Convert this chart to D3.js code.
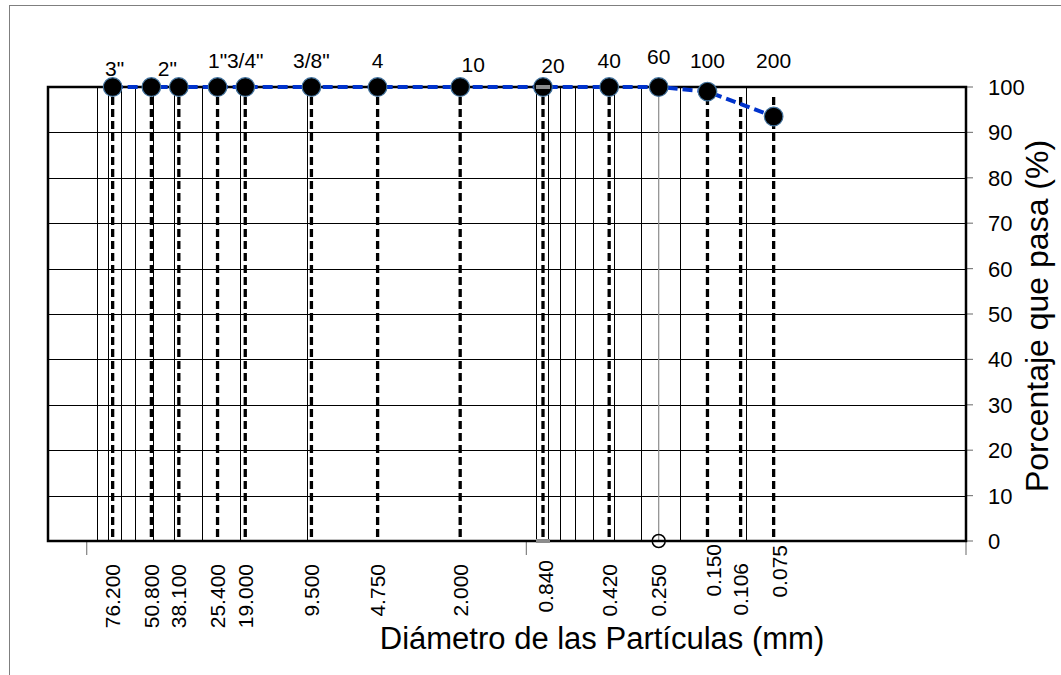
<!DOCTYPE html>
<html>
<head>
<meta charset="utf-8">
<script src="https://cdn.jsdelivr.net/npm/d3@7"></script>
<style>
  body { margin: 0; background: #fff; }
  svg text { font-family: "Liberation Sans", Arial, sans-serif; fill: #000; }
</style>
</head>
<body>
<div id="chart"></div>
<script>
// ── datos de la granulometria ──
const sieveSizes = [76.2, 50.8, 38.1, 25.4, 19.0, 9.5, 4.75, 2.0, 0.84, 0.42, 0.25, 0.15, 0.106, 0.075];
const sieveNames = ['3"', '2"', '', '1"', '3/4"', '3/8"', '4', '10', '20', '40', '60', '100', '', '200'];
const sizeLabels = ["76.200", "50.800", "38.100", "25.400", "19.000", "9.500", "4.750", "2.000", "0.840", "0.420", "0.250", "0.150", "0.106", "0.075"];
const percentPassing = [100, 100, 100, 100, 100, 100, 100, 100, 100, 100, 100, 99.0, null, 93.5];
const yTicks = [0, 10, 20, 30, 40, 50, 60, 70, 80, 90, 100];
const minorGrid = [90, 80, 70, 60, 50, 40, 30, 20, 10, 0.9, 0.8, 0.7, 0.6, 0.5, 0.4, 0.3, 0.2, 0.1];
const majorTicks = [100, 1, 0.01];
const openMarks = [0.25];

const width = 1061, height = 675;
const m = { left: 48, right: 966, top: 87, bottom: 541 };

const x = d3.scaleLog().domain([150, 0.01]).range([m.left, m.right]);
const y = d3.scaleLinear().domain([0, 100]).range([m.bottom, m.top]);

const svg = d3.select("#chart").append("svg")
  .attr("width", width).attr("height", height);

// marco exterior
svg.append("rect")
  .attr("x", 9.5).attr("y", 5.5).attr("width", 1100).attr("height", 700)
  .attr("fill", "none").attr("stroke", "#7f7f7f").attr("stroke-width", 1);

// cuadricula
svg.append("g").attr("stroke", "#000").attr("stroke-width", 1)
  .selectAll("line").data(yTicks).join("line")
  .attr("x1", m.left).attr("x2", m.right)
  .attr("y1", d => Math.round(y(d)) + 0.5).attr("y2", d => Math.round(y(d)) + 0.5);

svg.append("g").attr("stroke", "#000").attr("stroke-width", 1)
  .selectAll("line").data(minorGrid).join("line")
  .attr("x1", d => Math.round(x(d)) + 0.5).attr("x2", d => Math.round(x(d)) + 0.5)
  .attr("y1", m.top).attr("y2", m.bottom);

// linea gris de referencia y marcador abierto
svg.append("g").attr("stroke", "#8c8c8c").attr("stroke-width", 1.2)
  .selectAll("line").data(openMarks).join("line")
  .attr("x1", d => x(d)).attr("x2", d => x(d))
  .attr("y1", y(100)).attr("y2", y(0));

// ticks de ejes
svg.append("g").attr("stroke", "#808080").attr("stroke-width", 1.2)
  .selectAll("line").data(majorTicks).join("line")
  .attr("x1", d => x(d)).attr("x2", d => x(d))
  .attr("y1", m.bottom).attr("y2", m.bottom + 14);

svg.append("g").attr("stroke", "#808080").attr("stroke-width", 1.2)
  .selectAll("line").data(yTicks).join("line")
  .attr("x1", m.right).attr("x2", m.right + 7)
  .attr("y1", d => y(d)).attr("y2", d => y(d));

// borde del area de trazado
svg.append("rect")
  .attr("x", m.left).attr("y", m.top)
  .attr("width", m.right - m.left).attr("height", m.bottom - m.top)
  .attr("fill", "none").attr("stroke", "#000").attr("stroke-width", 2.5);

// lineas verticales discontinuas por tamiz (el 0.25 solo lleva linea gris)
svg.append("g").attr("stroke", "#000").attr("stroke-width", 3.3).attr("stroke-dasharray", "8,4")
  .selectAll("line").data(sieveSizes.filter(s => !openMarks.includes(s))).join("line")
  .attr("x1", d => x(d)).attr("x2", d => x(d))
  .attr("y1", y(100) + 10).attr("y2", y(0));

// banda gris en el tamiz 20
svg.append("rect")
  .attr("x", x(0.84) - 7).attr("y", y(0) - 2).attr("width", 14).attr("height", 4)
  .attr("fill", "#8c8c8c");

// curva granulometrica
const pts = sieveSizes.map((s, i) => ({ s, p: percentPassing[i] })).filter(d => d.p != null);

svg.append("path")
  .datum(pts)
  .attr("fill", "none").attr("stroke", "#0033cc").attr("stroke-width", 4)
  .attr("stroke-dasharray", "10,5")
  .attr("d", d3.line().x(d => x(d.s)).y(d => y(d.p)));

svg.append("g")
  .selectAll("circle").data(pts).join("circle")
  .attr("cx", d => x(d.s)).attr("cy", d => y(d.p)).attr("r", 9.3)
  .attr("fill", "#000").attr("stroke", "#41719c").attr("stroke-width", 1.2);

svg.append("rect")
  .attr("x", x(0.84) - 7).attr("y", y(100) - 2).attr("width", 14).attr("height", 4)
  .attr("fill", "#8c8c8c");

svg.append("g")
  .selectAll("circle").data(openMarks).join("circle")
  .attr("cx", d => x(d)).attr("cy", y(0)).attr("r", 6.5)
  .attr("fill", "none").attr("stroke", "#000").attr("stroke-width", 1.5);

// etiquetas de tamices (arriba)
const topNudge = { '3"': [2, 76], '2"': [16, 76], '10': [13, 72], '20': [10, 73], '60': [0, 64] };
svg.append("g")
  .selectAll("text").data(sieveNames.map((n, i) => ({ n, s: sieveSizes[i] })).filter(d => d.n)).join("text")
  .attr("x", d => x(d.s) + (topNudge[d.n] ? topNudge[d.n][0] : 0))
  .attr("y", d => topNudge[d.n] ? topNudge[d.n][1] : 68)
  .attr("text-anchor", "middle").attr("font-size", "21px")
  .text(d => d.n);

// etiquetas de diametros (abajo, giradas)
const lowNudge = { "0.150": [6, 544], "0.075": [6, 545], "0.840": [2, 560], "0.106": [0, 563] };
svg.append("g")
  .selectAll("text").data(sizeLabels.map((t, i) => ({ t, s: sieveSizes[i] }))).join("text")
  .attr("transform", d => {
    const n = lowNudge[d.t] || [0, 564];
    return `translate(${x(d.s) + n[0]},${n[1]}) rotate(-90)`;
  })
  .attr("dy", "0.36em").attr("text-anchor", "end").attr("font-size", "21px")
  .text(d => d.t);

// eje Y a la derecha
svg.append("g")
  .selectAll("text").data(yTicks).join("text")
  .attr("x", 988).attr("y", d => y(d)).attr("dy", "0.36em")
  .attr("font-size", "22px")
  .text(d => d);

svg.append("text")
  .attr("transform", `translate(1048,${(m.top + m.bottom) / 2 + 2}) rotate(-90)`)
  .attr("text-anchor", "middle").attr("font-size", "32px")
  .text("Porcentaje que pasa (%)");

svg.append("text")
  .attr("x", 602).attr("y", 649)
  .attr("text-anchor", "middle").attr("font-size", "31px")
  .text("Diámetro de las Partículas (mm)");
</script>
</body>
</html>
